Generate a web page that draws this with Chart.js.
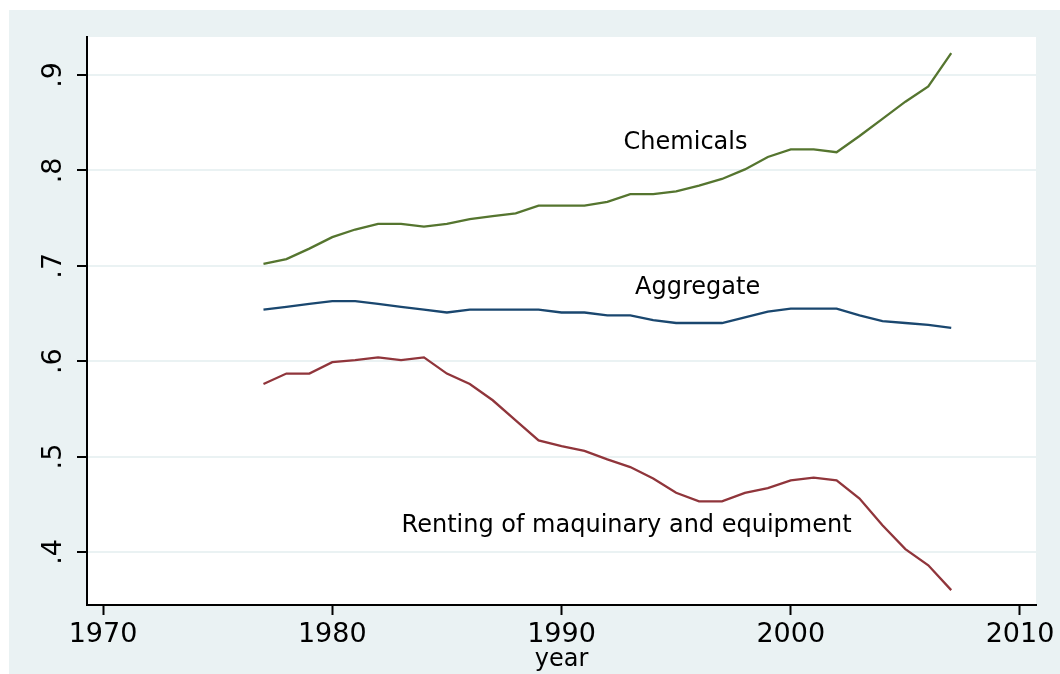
<!DOCTYPE html>
<html>
<head>
<meta charset="utf-8">
<script src="https://cdn.jsdelivr.net/npm/chart.js@4.4.1/dist/chart.umd.min.js"></script>
<style>
  html, body { margin: 0; padding: 0; background: #ffffff; }
  canvas { display: block; }
</style>
</head>
<body>
<canvas id="c" width="1060" height="674"></canvas>
<script>
const years = [1977,1978,1979,1980,1981,1982,1983,1984,1985,1986,1987,1988,1989,1990,1991,1992,1993,1994,1995,1996,1997,1998,1999,2000,2001,2002,2003,2004,2005,2006,2007];
const chemicals = [0.702,0.707,0.718,0.730,0.738,0.744,0.744,0.741,0.744,0.749,0.752,0.755,0.763,0.763,0.763,0.767,0.775,0.775,0.778,0.784,0.791,0.801,0.814,0.822,0.822,0.819,0.836,0.854,0.872,0.888,0.923];
const aggregate = [0.654,0.657,0.660,0.663,0.663,0.660,0.657,0.654,0.651,0.654,0.654,0.654,0.654,0.651,0.651,0.648,0.648,0.643,0.640,0.640,0.640,0.646,0.652,0.655,0.655,0.655,0.648,0.642,0.640,0.638,0.635];
const renting = [0.576,0.587,0.587,0.599,0.601,0.604,0.601,0.604,0.587,0.576,0.559,0.538,0.517,0.511,0.506,0.497,0.489,0.477,0.462,0.453,0.453,0.462,0.467,0.475,0.478,0.475,0.456,0.428,0.403,0.386,0.360];
const seriesNames = ['Chemicals','Aggregate','Renting of maquinary and equipment'];
const xTicks = [1970,1980,1990,2000,2010];
const yTicks = [0.4,0.5,0.6,0.7,0.8,0.9];
const yTickLabels = ['.4','.5','.6','.7','.8','.9'];
const xTitle = 'year';

const BG = 'rgb(234,242,243)';
const FONT = "'DejaVu Sans', sans-serif";

const toPts = vals => years.map((yr, i) => ({x: yr, y: vals[i]}));

// in-plot series labels, placed in data coordinates
const seriesLabelAnchors = [
  {x: 1995.41, y: 0.8225},
  {x: 1995.94, y: 0.6704},
  {x: 1992.84, y: 0.4204}
];

const bgPlugin = {
  id: 'bg',
  beforeDraw(chart) {
    const {ctx, chartArea: a} = chart;
    ctx.save();
    ctx.fillStyle = '#ffffff';
    ctx.fillRect(0, 0, chart.width, chart.height);
    ctx.fillStyle = BG;
    ctx.fillRect(9, 10, chart.width - 9, chart.height - 10);
    ctx.fillStyle = '#ffffff';
    ctx.fillRect(a.left, a.top, a.right - a.left, a.bottom - a.top);
    ctx.restore();
  }
};

const labelPlugin = {
  id: 'seriesText',
  afterDatasetsDraw(chart) {
    const {ctx, scales: {x, y}} = chart;
    ctx.save();
    ctx.font = '24px ' + FONT;
    ctx.fillStyle = '#000000';
    ctx.textAlign = 'center';
    ctx.textBaseline = 'alphabetic';
    seriesNames.forEach((n, i) => {
      const p = seriesLabelAnchors[i];
      ctx.fillText(n, x.getPixelForValue(p.x), y.getPixelForValue(p.y));
    });
    ctx.restore();
  }
};

new Chart(document.getElementById('c'), {
  type: 'line',
  data: {
    datasets: [
      {label: seriesNames[1], data: toPts(aggregate), borderColor: 'rgb(26,71,111)'},
      {label: seriesNames[2], data: toPts(renting), borderColor: 'rgb(144,53,59)'},
      {label: seriesNames[0], data: toPts(chemicals), borderColor: 'rgb(85,117,47)'}
    ].map(d => Object.assign(d, {borderWidth: 2.3, pointRadius: 0, tension: 0, fill: false}))
  },
  options: {
    responsive: false,
    animation: false,
    devicePixelRatio: 1,
    layout: {padding: {top: 37, right: 24, left: 0, bottom: 0}},
    plugins: {legend: {display: false}, tooltip: {enabled: false}},
    scales: {
      x: {
        type: 'linear',
        min: 1969.302,
        max: 2010.698,
        afterFit(s) { s.height = 69; },
        afterBuildTicks(s) { s.ticks = xTicks.map(v => ({value: v})); },
        grid: {drawOnChartArea: false, drawTicks: true, tickLength: 10, tickColor: '#000', tickWidth: 2},
        border: {display: true, color: '#000', width: 2},
        ticks: {color: '#000', font: {family: FONT, size: 27}, padding: 4, maxRotation: 0, autoSkip: false,
                callback: v => String(v)},
        title: {display: true, text: xTitle, color: '#000', font: {family: FONT, size: 24, lineHeight: 1}, padding: {top: 0, bottom: 2}}
      },
      y: {
        type: 'linear',
        min: 0.3444,
        max: 0.9398,
        afterFit(s) { s.width = 87; },
        afterBuildTicks(s) { s.ticks = yTicks.map(v => ({value: v})); },
        grid: {color: BG, lineWidth: 2, drawTicks: true, tickLength: 10, tickColor: '#000', tickWidth: 2},
        border: {display: true, color: '#000', width: 2},
        ticks: {color: '#000', font: {family: FONT, size: 27}, padding: 10, minRotation: 90, maxRotation: 90,
                crossAlign: 'center', autoSkip: false,
                callback: v => yTickLabels[yTicks.findIndex(t => Math.abs(t - v) < 1e-9)]}
      }
    }
  },
  plugins: [bgPlugin, labelPlugin]
});
</script>
</body>
</html>
